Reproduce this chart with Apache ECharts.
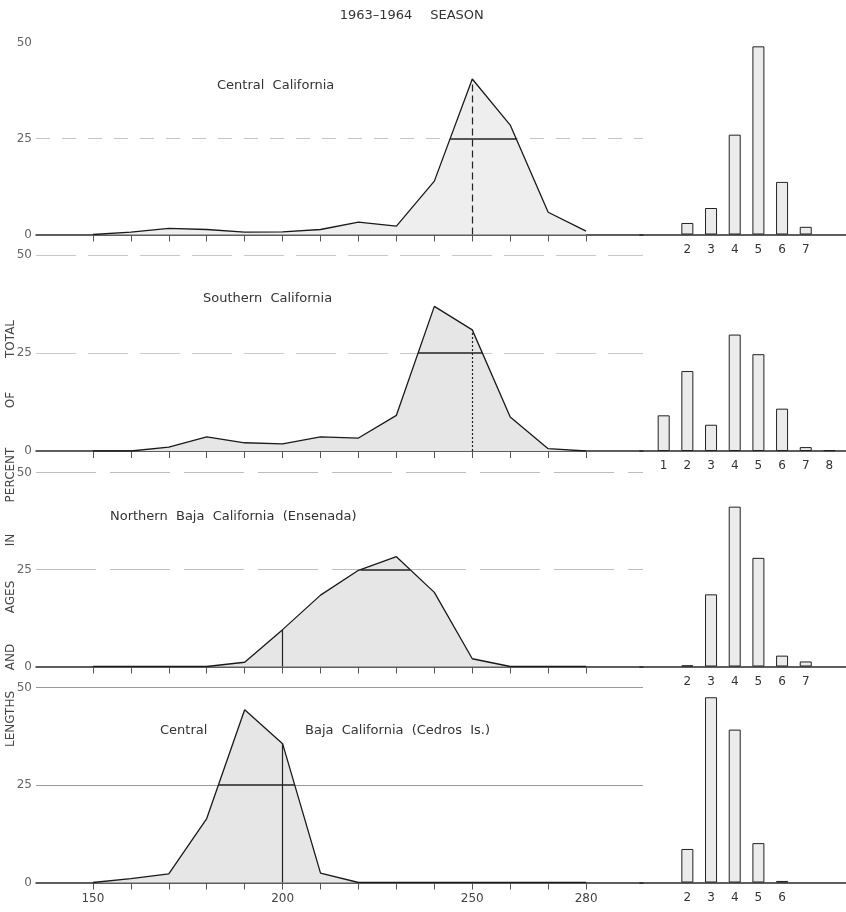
<!DOCTYPE html>
<html><head><meta charset="utf-8">
<script src="https://cdn.jsdelivr.net/npm/echarts@6/dist/echarts.min.js"></script>
<style>html,body{margin:0;padding:0;background:#fff}#c{width:846px;height:912px}</style>
</head><body><div id="c"></div>
<script>
// ---- data ----
const lengths = [150, 160, 170, 180, 190, 200, 210, 220, 230, 240, 250, 260, 270, 280];
const centralCalLen  = [0, 0.6, 1.6, 1.3, 0.6, 0.7, 1.3, 3.2, 2.2, 13.9, 40.5, 28.5, 5.8, 0.9];
const southernCalLen = [0, 0, 1.0, 3.6, 2.1, 1.8, 3.6, 3.3, 9.1, 36.9, 30.9, 8.7, 0.6, 0];
const northernBajaLen = [0, 0, 0, 0, 1.1, 9.5, 18.4, 24.8, 28.3, 19.1, 2.0, 0, 0, 0];
const centralBajaLen = [0, 1.0, 2.2, 16.4, 44.3, 35.6, 2.4, 0, 0, 0, 0, 0, 0, 0];

const centralCalAges = [2, 3, 4, 5, 6, 7];
const centralCalAgePct = [3.0, 6.9, 26.0, 49.0, 13.7, 2.0];
const southernCalAges = [1, 2, 3, 4, 5, 6, 7, 8];
const southernCalAgePct = [9.1, 20.4, 6.7, 29.7, 24.7, 10.8, 1.0, 0.2];
const northernBajaAges = [2, 3, 4, 5, 6, 7];
const northernBajaAgePct = [0.3, 18.6, 41.2, 28.0, 2.8, 1.3];
const centralBajaAges = [2, 3, 4, 5, 6];
const centralBajaAgePct = [8.6, 47.5, 39.2, 10.1, 0.4];

const markLengths = [250, 250, 200, 200];
const xTickValues = [150, 160, 170, 180, 190, 200, 210, 220, 230, 240, 250, 260, 270, 280];
const xLabelValues = [150, 200, 250, 280];
const yTickValues = [0, 25, 50];
const halfLevel = 25;

const titleWords = ['1963\u20131964', 'SEASON'];
const yTitleWords = ['LENGTHS', 'AND', 'AGES', 'IN', 'PERCENT', 'OF', 'TOTAL'];

// ---- layout ----
const panels = [
  { len: centralCalLen, ages: centralCalAges, pct: centralCalAgePct, top: 42.5, h: 192,
    grid25: '#c4c4c4', grid50: 'rgba(0,0,0,0)', gridType: [14, 12], vType: [7, 4], label50: '#d6d6d6', fill: '#eeeeee' },
  { len: southernCalLen, ages: southernCalAges, pct: southernCalAgePct, top: 255, h: 196,
    grid25: '#c8c8c8', grid50: '#c8c8c8', gridType: [40, 12], vType: [2, 2], label50: '#777', fill: '#e6e6e6' },
  { len: northernBajaLen, ages: northernBajaAges, pct: northernBajaAgePct, top: 472.5, h: 194,
    grid25: '#bdbdbd', grid50: '#bdbdbd', gridType: [60, 14], vType: 'solid', label50: '#777', fill: '#e6e6e6' },
  { len: centralBajaLen, ages: centralBajaAges, pct: centralBajaAgePct, top: 687.5, h: 195,
    grid25: '#9a9a9a', grid50: '#9a9a9a', gridType: 'solid', vType: 'solid', label50: '#777', fill: '#e6e6e6' }
];
const FONT = 'DejaVu Sans';
const titleCenters = [376, 457];
const yTitleCenters = [719, 657, 597, 540, 475, 400, 339];

function valAt(arr, x) {
  for (let i = 0; i < lengths.length - 1; i++) {
    if (x >= lengths[i] && x <= lengths[i + 1]) {
      const t = (x - lengths[i]) / (lengths[i + 1] - lengths[i]);
      return arr[i] + t * (arr[i + 1] - arr[i]);
    }
  }
  return 0;
}
function crossings(arr, level) {
  let left = null, right = null;
  for (let i = 0; i < arr.length - 1; i++) {
    if (arr[i] < level && arr[i + 1] >= level && left === null)
      left = lengths[i] + (level - arr[i]) / (arr[i + 1] - arr[i]) * (lengths[i + 1] - lengths[i]);
    if (arr[i] >= level && arr[i + 1] < level)
      right = lengths[i] + (arr[i] - level) / (arr[i] - arr[i + 1]) * (lengths[i + 1] - lengths[i]);
  }
  return [left, right];
}

const grid = [], xAxis = [], yAxis = [], series = [];
panels.forEach((p, k) => {
  const last = k === panels.length - 1;
  grid.push({ left: 36, width: 607, top: p.top, height: p.h });
  grid.push({ left: 640, width: 206, top: p.top, height: p.h });
  const gi = 2 * k;
  xAxis.push({
    type: 'value', gridIndex: gi, min: 135, max: 295,
    axisLine: { show: true, onZero: false, lineStyle: { color: '#2a2a2a', width: 1.5 } },
    axisTick: { show: true, customValues: xTickValues, length: 7, lineStyle: { color: '#555', width: 1 } },
    axisLabel: { show: last, customValues: xLabelValues, color: '#444', fontSize: 12, fontFamily: FONT, margin: 10 },
    splitLine: { show: false }
  });
  xAxis.push({
    type: 'value', gridIndex: gi + 1, min: 0, max: 8.7,
    axisLine: { show: true, onZero: false, lineStyle: { color: '#2a2a2a', width: 1.5 } },
    axisTick: { show: false },
    axisLabel: { show: true, customValues: p.ages, color: '#333', fontSize: 12, fontFamily: FONT, margin: 9 },
    splitLine: { show: false }
  });
  yAxis.push({
    type: 'value', gridIndex: gi, min: 0, max: 50, interval: 25,
    axisLine: { show: false }, axisTick: { show: false },
    axisLabel: { show: true, fontSize: 12, fontFamily: FONT, margin: 4,
      color: (v) => (v === 50 ? p.label50 : '#666') },
    splitLine: { show: true, lineStyle: { color: ['rgba(0,0,0,0)', p.grid25, p.grid50], width: 1.2, type: p.gridType } }
  });
  yAxis.push({
    type: 'value', gridIndex: gi + 1, min: 0, max: 50, interval: 25,
    axisLine: { show: false }, axisTick: { show: false }, axisLabel: { show: false }, splitLine: { show: false }
  });

  const m = markLengths[k];
  const [l, r] = crossings(p.len, halfLevel);
  series.push({
    type: 'line', xAxisIndex: gi, yAxisIndex: gi,
    data: lengths.map((x, i) => [x, p.len[i]]),
    symbol: 'none', silent: true,
    lineStyle: { color: '#1a1a1a', width: 1.3 },
    areaStyle: { color: p.fill, opacity: 1 },
    z: 3,
    markLine: {
      silent: true, symbol: 'none', label: { show: false },
      data: [
        [{ coord: [m, 0], lineStyle: { color: '#222', width: 1.2, type: p.vType } }, { coord: [m, valAt(p.len, m)] }],
        [{ coord: [l, halfLevel], lineStyle: { color: '#222', width: 1.6, type: 'solid' } }, { coord: [r, halfLevel] }]
      ]
    }
  });
  series.push({
    type: 'bar', xAxisIndex: gi + 1, yAxisIndex: gi + 1,
    data: p.ages.map((a, i) => [a, p.pct[i]]),
    barWidth: 12, silent: true,
    itemStyle: { color: '#ebebeb', borderColor: '#222', borderWidth: 1 }
  });
});

const labelStyle = { fill: '#333', fontSize: 13, fontFamily: FONT };
const graphic = [];
titleWords.forEach((w, i) => graphic.push({ type: 'text', x: titleCenters[i], y: 16,
  style: { text: w, fill: '#333', fontSize: 13, fontFamily: FONT, align: 'center', verticalAlign: 'middle' } }));
yTitleWords.forEach((w, i) => graphic.push({ type: 'text', x: 11, y: yTitleCenters[i], rotation: Math.PI / 2,
  style: { text: w, fill: '#444', fontSize: 12, fontFamily: FONT, align: 'center', verticalAlign: 'middle' } }));
graphic.push(
  { type: 'text', x: 217, y: 86, style: Object.assign({ text: 'Central  California', verticalAlign: 'middle' }, labelStyle) },
  { type: 'text', x: 203, y: 299, style: Object.assign({ text: 'Southern  California', verticalAlign: 'middle' }, labelStyle) },
  { type: 'text', x: 110, y: 517, style: Object.assign({ text: 'Northern  Baja  California  (Ensenada)', verticalAlign: 'middle' }, labelStyle) },
  { type: 'text', x: 160, y: 731, style: Object.assign({ text: 'Central', verticalAlign: 'middle' }, labelStyle) },
  { type: 'text', x: 305, y: 731, style: Object.assign({ text: 'Baja  California  (Cedros  Is.)', verticalAlign: 'middle' }, labelStyle) }
);

const chart = echarts.init(document.getElementById('c'), null, { renderer: 'canvas' });
chart.setOption({ backgroundColor: '#fff', animation: false, grid, xAxis, yAxis, series, graphic });
</script>
</body></html>
